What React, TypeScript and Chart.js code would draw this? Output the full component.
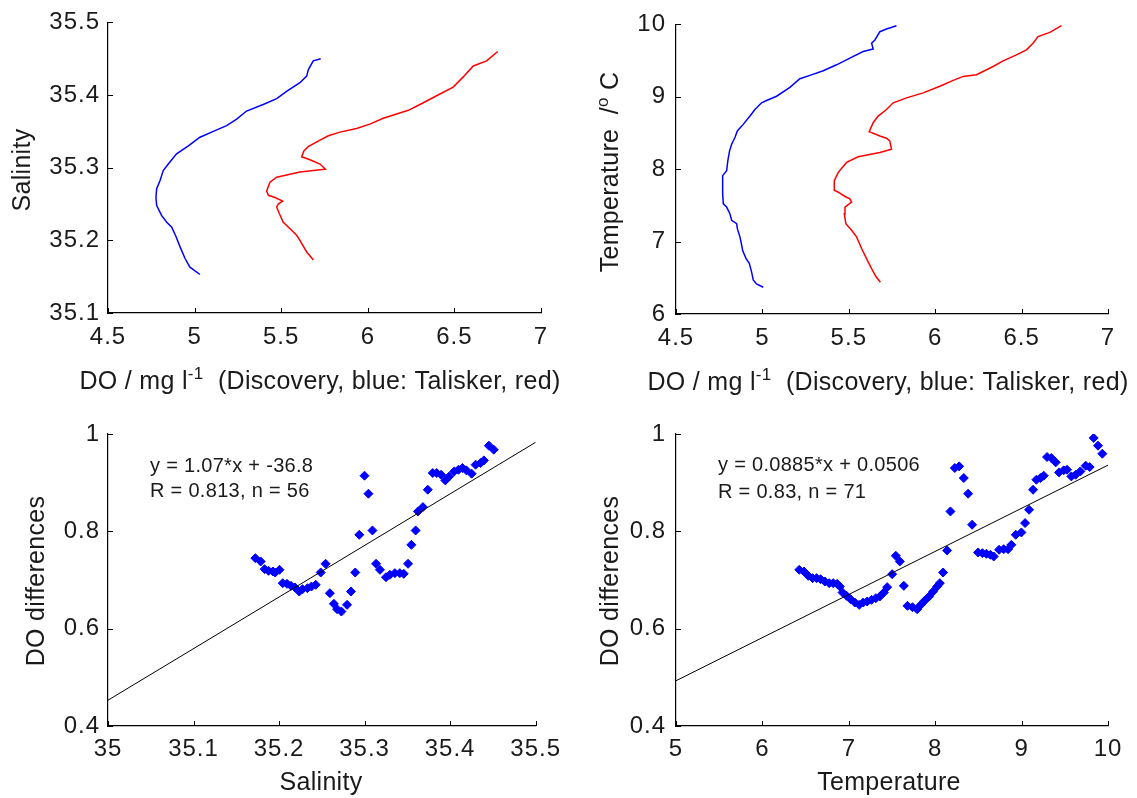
import React, { useEffect, useRef } from 'react';
import { Chart, registerables } from 'chart.js';

Chart.register(...registerables);

const FONT = '"Liberation Sans", Arial, Helvetica, sans-serif';
const TEXT = '#1a1a1a';
const BLUE = '#0000ff';
const RED = '#ff0000';

// ---------- Panel 1: Salinity vs DO ----------
const salDiscoveryDO = [5.031, 4.973, 4.945, 4.916, 4.893, 4.868, 4.839, 4.81, 4.781, 4.777, 4.781, 4.8, 4.819, 4.848, 4.896, 4.964, 5.031, 5.118, 5.185, 5.243, 5.3, 5.396, 5.474, 5.531, 5.608, 5.647, 5.657, 5.685, 5.728];
const salDiscoverySal = [35.153, 35.163, 35.175, 35.191, 35.205, 35.218, 35.225, 35.234, 35.248, 35.259, 35.271, 35.282, 35.296, 35.305, 35.319, 35.33, 35.342, 35.351, 35.358, 35.367, 35.378, 35.387, 35.395, 35.405, 35.417, 35.426, 35.435, 35.447, 35.45];
const salTaliskerDO = [5.686, 5.647, 5.608, 5.589, 5.56, 5.512, 5.489, 5.474, 5.483, 5.508, 5.464, 5.426, 5.416, 5.435, 5.474, 5.531, 5.608, 5.685, 5.755, 5.724, 5.666, 5.618, 5.631, 5.656, 5.724, 5.772, 5.839, 5.935, 6.012, 6.089, 6.166, 6.234, 6.301, 6.397, 6.493, 6.551, 6.609, 6.686, 6.75];
const salTaliskerSal = [35.173, 35.184, 35.2, 35.207, 35.214, 35.225, 35.237, 35.246, 35.25, 35.254, 35.259, 35.262, 35.268, 35.28, 35.287, 35.29, 35.294, 35.296, 35.298, 35.305, 35.311, 35.315, 35.323, 35.329, 35.338, 35.344, 35.349, 35.354, 35.36, 35.368, 35.374, 35.379, 35.387, 35.399, 35.411, 35.425, 35.44, 35.447, 35.46];

// ---------- Panel 2: Temperature vs DO ----------
const tempDiscoveryDO = [5.005, 4.966, 4.947, 4.937, 4.924, 4.905, 4.886, 4.88, 4.87, 4.855, 4.851, 4.822, 4.812, 4.793, 4.774, 4.77, 4.77, 4.793, 4.8, 4.81, 4.822, 4.841, 4.855, 4.889, 4.928, 4.957, 4.995, 5.024, 5.082, 5.159, 5.217, 5.275, 5.352, 5.429, 5.506, 5.583, 5.641, 5.632, 5.651, 5.68, 5.718, 5.776];
const tempDiscoveryT = [6.37, 6.416, 6.47, 6.585, 6.699, 6.768, 6.873, 6.951, 7.065, 7.179, 7.248, 7.294, 7.385, 7.477, 7.522, 7.659, 7.911, 7.979, 8.117, 8.254, 8.345, 8.437, 8.528, 8.619, 8.734, 8.825, 8.917, 8.949, 9.008, 9.131, 9.25, 9.296, 9.36, 9.442, 9.534, 9.625, 9.662, 9.739, 9.785, 9.899, 9.936, 9.982];
const tempTaliskerDO = [5.683, 5.657, 5.631, 5.602, 5.574, 5.545, 5.516, 5.483, 5.474, 5.478, 5.516, 5.506, 5.478, 5.439, 5.42, 5.416, 5.439, 5.487, 5.554, 5.612, 5.68, 5.747, 5.737, 5.718, 5.68, 5.618, 5.641, 5.67, 5.718, 5.757, 5.834, 5.93, 6.027, 6.104, 6.162, 6.239, 6.335, 6.393, 6.47, 6.528, 6.566, 6.595, 6.663, 6.731];
const tempTaliskerT = [6.439, 6.517, 6.631, 6.768, 6.905, 7.065, 7.157, 7.248, 7.385, 7.477, 7.545, 7.591, 7.623, 7.682, 7.705, 7.842, 7.957, 8.094, 8.171, 8.199, 8.231, 8.277, 8.391, 8.427, 8.459, 8.519, 8.642, 8.734, 8.825, 8.917, 8.985, 9.054, 9.145, 9.227, 9.282, 9.305, 9.419, 9.497, 9.579, 9.648, 9.739, 9.831, 9.89, 9.982];

// ---------- Panel 3: DO differences vs Salinity ----------
const diffSalX = [35.1723, 35.1785, 35.1831, 35.1877, 35.1928, 35.1955, 35.2005, 35.2043, 35.2093, 35.214, 35.2186, 35.2236, 35.2274, 35.2332, 35.2379, 35.2429, 35.2487, 35.2544, 35.2594, 35.2641, 35.2679, 35.2729, 35.2795, 35.2841, 35.2891, 35.2938, 35.2999, 35.3045, 35.3092, 35.3134, 35.318, 35.325, 35.3296, 35.3354, 35.3412, 35.3458, 35.3508, 35.3547, 35.3597, 35.3624, 35.3682, 35.3739, 35.3797, 35.3843, 35.3894, 35.3944, 35.399, 35.4048, 35.4098, 35.4144, 35.419, 35.4252, 35.4298, 35.4356, 35.4395, 35.4453, 35.451];
const diffSalY = [0.7449, 0.7381, 0.7223, 0.7189, 0.7175, 0.7154, 0.7209, 0.6935, 0.6921, 0.688, 0.6846, 0.6763, 0.6811, 0.6832, 0.6866, 0.6901, 0.7154, 0.7333, 0.6729, 0.651, 0.64, 0.6352, 0.6489, 0.6763, 0.7154, 0.7929, 0.9143, 0.8773, 0.8018, 0.7333, 0.7209, 0.7058, 0.7106, 0.7141, 0.7141, 0.7127, 0.7333, 0.7723, 0.8018, 0.8409, 0.8498, 0.8855, 0.9198, 0.9198, 0.9163, 0.9047, 0.9129, 0.9232, 0.9266, 0.9301, 0.9253, 0.9184, 0.9369, 0.9403, 0.9458, 0.976, 0.9678];
const fitSalX = [35, 35.5];
const fitSalY = [0.453, 0.983];
const eqSal = ['y = 1.07*x + -36.8', 'R = 0.813, n = 56'];

// ---------- Panel 4: DO differences vs Temperature ----------
const diffTempX = [6.4264, 6.4804, 6.5305, 6.5806, 6.6268, 6.6731, 6.7232, 6.7733, 6.8196, 6.8659, 6.8967, 6.9275, 6.9738, 7.02, 7.0701, 7.1203, 7.1665, 7.2128, 7.2629, 7.313, 7.3593, 7.4055, 7.4441, 7.5019, 7.5443, 7.5906, 7.6368, 7.6792, 7.737, 7.791, 7.8334, 7.8797, 7.9298, 7.9761, 8.0223, 8.0532, 8.0917, 8.138, 8.1765, 8.2267, 8.2768, 8.3307, 8.3809, 8.4271, 8.4965, 8.5466, 8.5929, 8.6391, 8.6777, 8.7394, 8.7934, 8.8435, 8.882, 8.9322, 8.9977, 9.0401, 9.0864, 9.1327, 9.1712, 9.2174, 9.256, 9.2945, 9.3446, 9.3947, 9.4333, 9.4873, 9.5258, 9.5759, 9.626, 9.68, 9.7417, 9.7879, 9.8342, 9.8843, 9.9344];
const diffTempY = [0.7209, 0.7175, 0.7086, 0.7038, 0.7038, 0.7017, 0.6969, 0.6935, 0.6935, 0.6921, 0.6866, 0.6743, 0.6675, 0.6606, 0.6537, 0.6489, 0.6537, 0.6558, 0.6592, 0.6626, 0.6661, 0.6743, 0.6853, 0.712, 0.7497, 0.7381, 0.688, 0.6469, 0.6441, 0.64, 0.6489, 0.6578, 0.6661, 0.6763, 0.6866, 0.6935, 0.7154, 0.7607, 0.8409, 0.9301, 0.9335, 0.9095, 0.8773, 0.8135, 0.7566, 0.7552, 0.7538, 0.7518, 0.7483, 0.7621, 0.7634, 0.7634, 0.7723, 0.7929, 0.7977, 0.8169, 0.8443, 0.8855, 0.9061, 0.9095, 0.9143, 0.9527, 0.9506, 0.9417, 0.9211, 0.9253, 0.9266, 0.9129, 0.9163, 0.9232, 0.9349, 0.9321, 0.9918, 0.976, 0.9595];
const fitTempX = [5, 10];
const fitTempY = [0.493, 0.936];
const eqTemp = ['y = 0.0885*x + 0.0506', 'R = 0.83, n = 71'];

// ---------- Tick labels ----------
const doTicks = [4.5, 5, 5.5, 6, 6.5, 7];
const salinityTicks = [35.1, 35.2, 35.3, 35.4, 35.5];
const temperatureTicks = [6, 7, 8, 9, 10];
const salinityXTicks = [35, 35.1, 35.2, 35.3, 35.4, 35.5];
const temperatureXTicks = [5, 6, 7, 8, 9, 10];
const diffTicks = [0.4, 0.6, 0.8, 1];

type Seg = { t: string; sup?: boolean };

const zip = (xs: number[], ys: number[]) => xs.map((x, i) => ({ x, y: ys[i] }));

interface PanelSpec {
  box: { left: number; top: number; width: number; height: number };
  area: { l: number; t: number; r: number; b: number };
  x: { min: number; max: number; ticks: number[] };
  y: { min: number; max: number; ticks: number[] };
  yPad: number;
  xPad: number;
  datasets: any[];
  xTitle: Seg[];
  xTitlePos: [number, number];
  yTitle: Seg[];
  yTitlePos: [number, number];
  notes?: { lines: string[]; x: number; ys: number[] };
}

function drawRich(ctx: CanvasRenderingContext2D, segs: Seg[], cx: number, cy: number, size: number, rotate: boolean) {
  const supSize = Math.round(size * 0.68);
  ctx.save();
  ctx.translate(cx, cy);
  if (rotate) ctx.rotate(-Math.PI / 2);
  (ctx as any).letterSpacing = '0.3px';
  ctx.textAlign = 'left';
  ctx.textBaseline = 'alphabetic';
  ctx.fillStyle = TEXT;
  let total = 0;
  const widths = segs.map((s) => {
    ctx.font = `${s.sup ? supSize : size}px ${FONT}`;
    const w = ctx.measureText(s.t).width;
    total += w;
    return w;
  });
  let x = -total / 2;
  const base = size * 0.36;
  segs.forEach((s, i) => {
    ctx.font = `${s.sup ? supSize : size}px ${FONT}`;
    ctx.fillText(s.t, x, s.sup ? base - size * 0.42 : base);
    x += widths[i];
  });
  ctx.restore();
}

function buildConfig(spec: PanelSpec): any {
  const { box, area } = spec;
  const yWidth = area.l - box.left;
  const xHeight = box.top + box.height - area.b;
  const decor = {
    id: 'panelDecor',
    beforeDraw(chart: any) {
      (chart.ctx as any).letterSpacing = '1px';
    },
    afterDraw(chart: any) {
      const ctx: CanvasRenderingContext2D = chart.ctx;
      const ca = chart.chartArea;
      const xs = chart.scales.x;
      const ys = chart.scales.y;
      ctx.save();
      (ctx as any).letterSpacing = '0px';
      ctx.strokeStyle = '#000';
      ctx.lineWidth = 1;
      ctx.beginPath();
      spec.x.ticks.forEach((v) => {
        const px = Math.round(xs.getPixelForValue(v)) + 0.5;
        ctx.moveTo(px, ca.bottom);
        ctx.lineTo(px, ca.bottom - 5);
      });
      spec.y.ticks.forEach((v) => {
        const py = Math.round(ys.getPixelForValue(v)) + 0.5;
        ctx.moveTo(ca.left, py);
        ctx.lineTo(ca.left + 5, py);
      });
      ctx.stroke();
      ctx.restore();
      drawRich(ctx, spec.xTitle, spec.xTitlePos[0] - box.left, spec.xTitlePos[1] - box.top, 25, false);
      drawRich(ctx, spec.yTitle, spec.yTitlePos[0] - box.left, spec.yTitlePos[1] - box.top, 25, true);
      if (spec.notes) {
        ctx.save();
        (ctx as any).letterSpacing = '0.3px';
        ctx.font = `20px ${FONT}`;
        ctx.fillStyle = TEXT;
        ctx.textAlign = 'left';
        ctx.textBaseline = 'alphabetic';
        spec.notes.lines.forEach((line, i) => {
          ctx.fillText(line, spec.notes!.x - box.left, spec.notes!.ys[i] - box.top + 7.2);
        });
        ctx.restore();
      }
    },
  };
  const axis = (a: { min: number; max: number; ticks: number[] }, horizontal: boolean, pad: number) => ({
    type: 'linear',
    min: a.min,
    max: a.max,
    afterBuildTicks: (s: any) => {
      s.ticks = a.ticks.map((v) => ({ value: v }));
    },
    afterFit: (s: any) => {
      if (horizontal) s.height = xHeight;
      else s.width = yWidth;
    },
    grid: { display: true, drawOnChartArea: false, drawTicks: false, color: '#000', lineWidth: 1 },
    border: { display: true, color: '#000', width: 1.2 },
    ticks: {
      autoSkip: false,
      maxRotation: 0,
      minRotation: 0,
      padding: pad,
      color: TEXT,
      font: { family: FONT, size: 24 },
      callback: (v: any) => String(v),
    },
  });
  return {
    type: 'scatter',
    data: { datasets: spec.datasets },
    plugins: [decor],
    options: {
      responsive: false,
      maintainAspectRatio: false,
      animation: false,
      events: [],
      layout: {
        padding: { left: 0, top: area.t - box.top, right: box.left + box.width - area.r, bottom: 0 },
      },
      plugins: { legend: { display: false }, tooltip: { enabled: false }, title: { display: false } },
      scales: {
        x: axis(spec.x, true, spec.xPad),
        y: axis(spec.y, false, spec.yPad),
      },
    },
  };
}

const lineDs = (data: any[], color: string, width = 1.5, order = 0) => ({
  data,
  showLine: true,
  borderColor: color,
  backgroundColor: color,
  borderWidth: width,
  pointRadius: 0,
  fill: false,
  tension: 0,
  order,
});

const pointDs = (data: any[]) => ({
  data,
  showLine: false,
  pointStyle: 'rectRot',
  pointRadius: 4.5,
  backgroundColor: BLUE,
  borderColor: BLUE,
  borderWidth: 1,
  order: 1,
});

const doTitle: Seg[] = [
  { t: 'DO / mg l' },
  { t: '-1', sup: true },
  { t: '  (Discovery, blue: Talisker, red)' },
];

const panels: PanelSpec[] = [
  {
    box: { left: 0, top: 0, width: 568, height: 399 },
    area: { l: 108, t: 21, r: 541, b: 313 },
    x: { min: 4.5, max: 7, ticks: doTicks },
    y: { min: 35.1, max: 35.5, ticks: salinityTicks },
    yPad: 8,
    xPad: 10,
    datasets: [
      lineDs(zip(salDiscoveryDO, salDiscoverySal), BLUE),
      lineDs(zip(salTaliskerDO, salTaliskerSal), RED),
    ],
    xTitle: doTitle,
    xTitlePos: [320, 380],
    yTitle: [{ t: 'Salinity' }],
    yTitlePos: [21, 170],
  },
  {
    box: { left: 568, top: 0, width: 569, height: 399 },
    area: { l: 676, t: 22, r: 1108, b: 314 },
    x: { min: 4.5, max: 7, ticks: doTicks },
    y: { min: 6, max: 10, ticks: temperatureTicks },
    yPad: 10,
    xPad: 10,
    datasets: [
      lineDs(zip(tempDiscoveryDO, tempDiscoveryT), BLUE),
      lineDs(zip(tempTaliskerDO, tempTaliskerT), RED),
    ],
    xTitle: doTitle,
    xTitlePos: [888, 381],
    yTitle: [{ t: 'Temperature  /' }, { t: 'o', sup: true }, { t: ' C' }],
    yTitlePos: [609, 172],
  },
  {
    box: { left: 0, top: 399, width: 568, height: 399 },
    area: { l: 108, t: 434, r: 541, b: 726 },
    x: { min: 35, max: 35.5, ticks: salinityXTicks },
    y: { min: 0.4, max: 1, ticks: diffTicks },
    yPad: 8,
    xPad: 9,
    datasets: [lineDs(zip(fitSalX, fitSalY), '#000', 1, 0), pointDs(zip(diffSalX, diffSalY))],
    xTitle: [{ t: 'Salinity' }],
    xTitlePos: [321, 781],
    yTitle: [{ t: 'DO differences' }],
    yTitlePos: [35, 581],
    notes: { lines: eqSal, x: 150, ys: [465, 490] },
  },
  {
    box: { left: 568, top: 399, width: 569, height: 399 },
    area: { l: 676, t: 434, r: 1108, b: 726 },
    x: { min: 5, max: 10, ticks: temperatureXTicks },
    y: { min: 0.4, max: 1, ticks: diffTicks },
    yPad: 10,
    xPad: 9,
    datasets: [lineDs(zip(fitTempX, fitTempY), '#000', 1, 0), pointDs(zip(diffTempX, diffTempY))],
    xTitle: [{ t: 'Temperature' }],
    xTitlePos: [889, 781],
    yTitle: [{ t: 'DO differences' }],
    yTitlePos: [609, 581],
    notes: { lines: eqTemp, x: 718, ys: [464, 491] },
  },
];

function Panel({ spec }: { spec: PanelSpec }) {
  const ref = useRef<HTMLCanvasElement | null>(null);
  useEffect(() => {
    if (!ref.current) return;
    const chart = new Chart(ref.current, buildConfig(spec));
    return () => chart.destroy();
  }, [spec]);
  const { box } = spec;
  return (
    <div style={{ position: 'absolute', left: box.left, top: box.top, width: box.width, height: box.height }}>
      <canvas ref={ref} width={box.width} height={box.height} style={{ width: box.width, height: box.height, display: 'block' }} />
    </div>
  );
}

export default function App() {
  return (
    <div style={{ position: 'absolute', left: 0, top: 0, width: 1137, height: 798, background: '#fff', overflow: 'hidden' }}>
      {panels.map((p, i) => (
        <Panel key={i} spec={p} />
      ))}
    </div>
  );
}
